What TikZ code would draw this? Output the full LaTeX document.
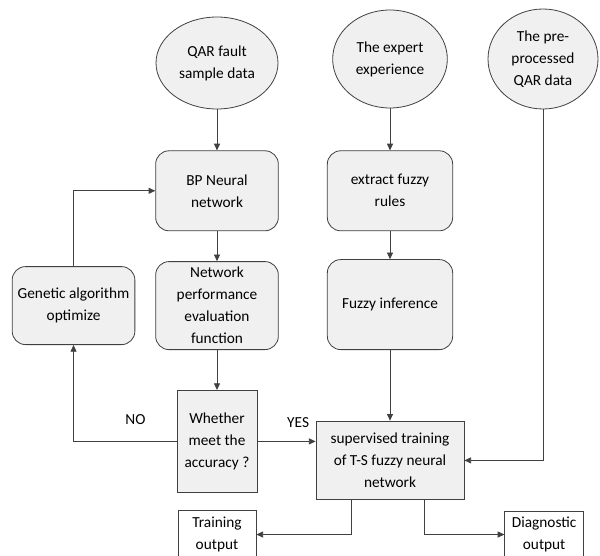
\documentclass[tikz,border=0pt]{standalone}
\usepackage{fontspec}
\setmainfont{Carlito}
\usetikzlibrary{shapes.geometric, arrows.meta, positioning, calc}

\begin{document}
\begin{tikzpicture}[
        font=\fontsize{11.5}{16.5}\selectfont,
        node distance=30pt and 15pt,
        source/.style={ellipse, draw=black!75, fill=black!6, align=center, inner sep=0pt, line width=0.6pt},
        process/.style={rectangle, draw=black!75, fill=black!6, minimum width=92pt, minimum height=60pt, align=center, inner sep=0pt, rounded corners=10pt, line width=0.6pt},
        decision/.style={rectangle, draw=black!75, fill=black!6, align=center, inner sep=0pt, line width=0.6pt},
        outbox/.style={rectangle, draw=black!75, fill=none, align=center, inner sep=0pt, line width=0.6pt},
        arrow/.style={-{Triangle[length=5pt, width=4.5pt]}, draw=black!75, line width=0.6pt}
    ]
        \useasboundingbox (0,0) rectangle (450pt,-417pt);

        % inputs
        \node[source, minimum width=91.5pt, minimum height=69pt] (qar) at (162.75pt,-47.25pt) {QAR fault\\sample data};
        \node[source, minimum width=86pt, minimum height=73.5pt] (expert) at (292.5pt,-44.25pt) {The expert\\experience};
        \node[source, minimum width=82.5pt, minimum height=75pt] (pre) at (407.25pt,-44.25pt) {The pre-\\processed\\QAR data};

        % BP branch
        \node[process, below=30.75pt of qar] (bp) {BP Neural\\network};
        \node[process, below=22.5pt of bp, minimum height=66pt] (perf) {Network\\performance\\evaluation\\function};
        \node[process, left=15pt of perf, minimum height=58.5pt] (genetic) {Genetic algorithm\\optimize};
        \node[decision, below=30pt of perf, minimum width=60pt, minimum height=76.5pt] (accuracy) {Whether\\meet the\\accuracy ?};

        % fuzzy branch
        \node[process, below=31.5pt of expert, minimum width=94pt] (rules) {extract fuzzy\\rules};
        \node[process, below=21pt of rules, minimum width=94pt, minimum height=67.5pt] (inference) {Fuzzy inference};
        \node[decision, below=53pt of inference, minimum width=111pt, minimum height=59pt] (tstrain) {supervised training\\of T-S fuzzy neural\\network};

        % outputs
        \node[outbox, below=13pt of accuracy, minimum width=58.5pt, minimum height=36pt] (trainout) {Training\\output};
        \node[outbox, right=186pt of trainout, minimum width=59pt, minimum height=35pt] (diagout) {Diagnostic\\output};

        \draw[arrow] (qar) -- (bp);
        \draw[arrow] (bp) -- (perf);
        \draw[arrow] (perf) -- (accuracy);
        \draw[arrow] (genetic.north) |- (bp.west);
        \draw[arrow] (accuracy.west) -| node[pos=0.2, above=9pt] {NO} (genetic.south);
        \draw[arrow] (accuracy.east) -- node[pos=0.7, above=7pt] {YES} (accuracy.east -| tstrain.west);
        \draw[arrow] (expert) -- (rules);
        \draw[arrow] (rules) -- (inference);
        \draw[arrow] (inference) -- (tstrain);
        \draw[arrow] (pre.south) |- (tstrain.east);
        \draw[arrow] ([xshift=-29pt]tstrain.south) |- (trainout.east);
        \draw[arrow] ([xshift=25.5pt]tstrain.south) |- (diagout.west);
    \end{tikzpicture}
\end{document}
